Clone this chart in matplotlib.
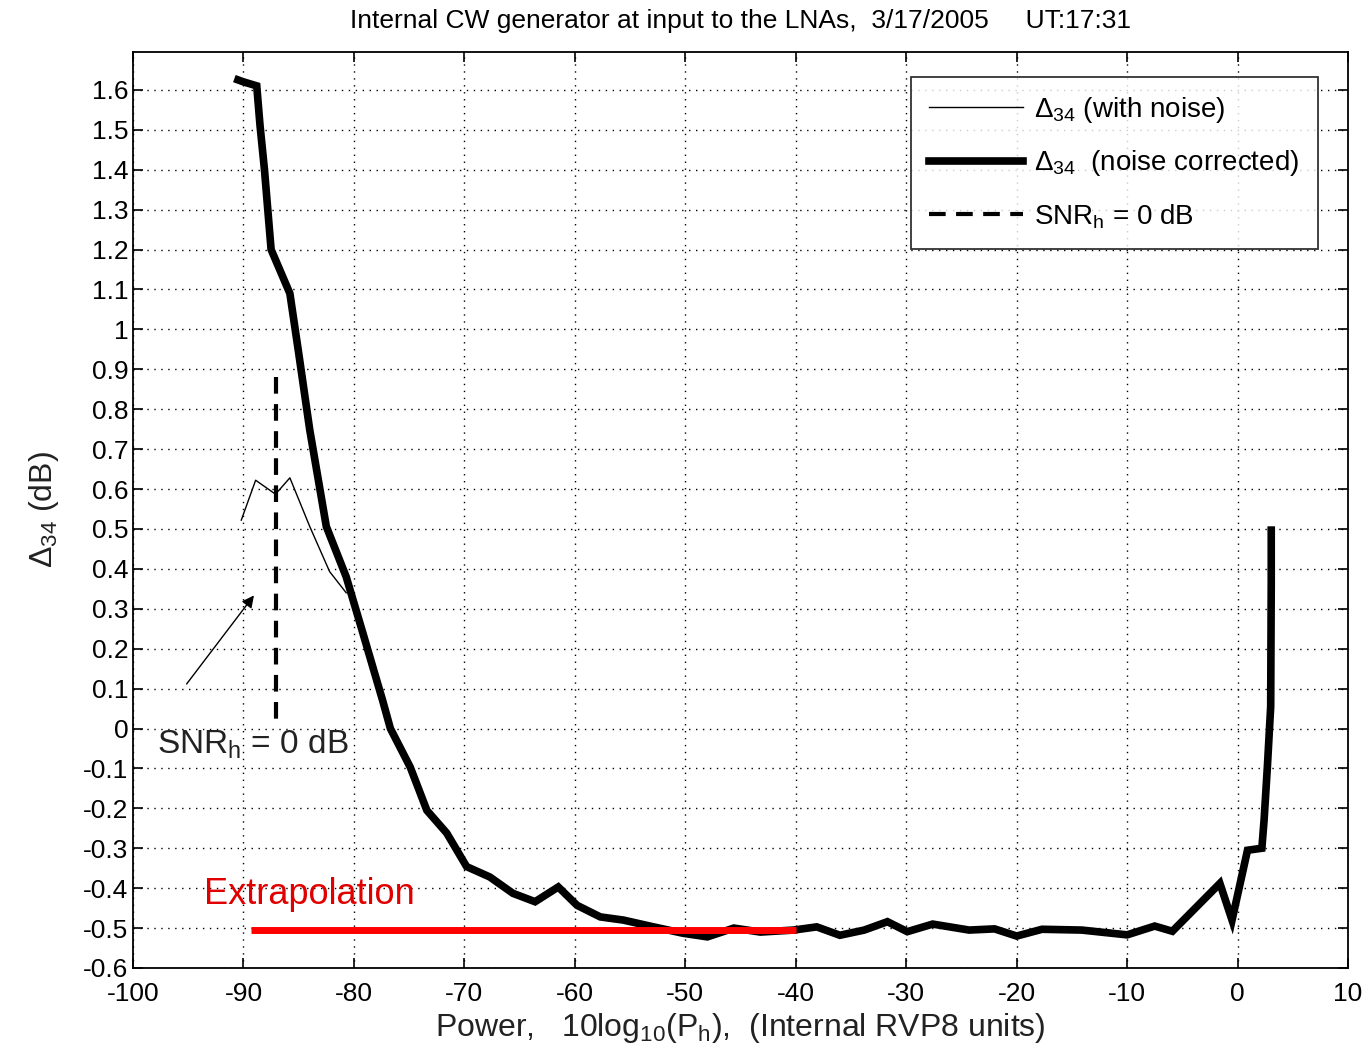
import matplotlib
matplotlib.use("Agg")
import matplotlib.pyplot as plt
import numpy as np

plt.rcParams['font.family'] = ['Liberation Sans', 'DejaVu Sans']
plt.rcParams['mathtext.fontset'] = 'custom'
plt.rcParams['mathtext.rm'] = 'Liberation Sans'
plt.rcParams['mathtext.it'] = 'Liberation Sans'
plt.rcParams['axes.unicode_minus'] = False

# noise corrected delta_34 (thick line)
x_corr = [-90.5, -90.0, -88.8, -88.5, -88.1, -87.8, -87.5, -85.8, -85.0, -84.0,
          -82.5, -80.7, -79.2, -77.4, -76.7, -74.9, -73.4, -71.6, -69.8, -67.7,
          -65.6, -63.6, -61.5, -59.8, -57.7, -55.6, -53.2, -50.2, -48.0, -45.6,
          -43.2, -40.2, -38.1, -36.0, -33.8, -31.7, -29.9, -27.6, -24.3, -22.0,
          -20.0, -17.7, -14.1, -10.0, -7.5, -5.9, -1.6, -0.5, 0.9, 2.2,
          2.4, 2.7, 3.0, 3.05, 3.05]
y_corr = [1.625, 1.62, 1.61, 1.51, 1.40, 1.30, 1.20, 1.09, 0.94, 0.748,
          0.506, 0.38, 0.24, 0.07, 0.0, -0.097, -0.205, -0.262, -0.346, -0.372,
          -0.413, -0.434, -0.397, -0.443, -0.472, -0.48, -0.495, -0.513, -0.522, -0.50,
          -0.51, -0.505, -0.497, -0.518, -0.505, -0.484, -0.509, -0.49, -0.505, -0.502,
          -0.52, -0.503, -0.505, -0.517, -0.495, -0.508, -0.388, -0.48, -0.305, -0.30,
          -0.23, -0.096, 0.055, 0.365, 0.497]

# delta_34 with noise (thin line)
x_noise = [-90.2, -88.9, -87.1, -85.8, -84.0, -82.2, -80.7]
y_noise = [0.522, 0.622, 0.587, 0.628, 0.506, 0.393, 0.34]

# SNR_h = 0 dB marker
x_snr = [-87.1, -87.1]
y_snr = [0.88, 0.0]

# extrapolation level
x_extra = [-89.3, -40.0]
y_extra = [-0.505, -0.505]

xticks = np.arange(-100, 11, 10)
yticks = np.round(np.arange(-0.6, 1.61, 0.1), 1)
yticklabels = ['%g' % (v + 0.0) for v in yticks]
yticklabels = [s if s != '-0' else '0' for s in yticklabels]

fig = plt.figure(figsize=(13.63, 10.60), dpi=100)
ax = fig.add_axes([0.0976, 0.0868, 0.8914, 0.8642])

ax.plot(x_noise, y_noise, color='black', lw=1.0, label=r'$\Delta_{34}$ (with noise)')
ax.plot(x_corr, y_corr, color='black', lw=5.5, solid_joinstyle='miter',
        label=r'$\Delta_{34}$  (noise corrected)')
ax.plot(x_snr, y_snr, color='black', lw=3, ls=(0, (4, 2.5)), label=r'SNR$_{\mathrm{h}}$ = 0 dB')
ax.plot(x_extra, y_extra, color='#ff0000', lw=5, solid_capstyle='butt')

ax.annotate('', xy=(-88.9, 0.339), xytext=(-95.3, 0.106),
            arrowprops=dict(arrowstyle='-|>', color='black', lw=1, mutation_scale=18))
ax.text(-97.8, -0.04, r'SNR$_{\mathrm{h}}$ = 0 dB', fontsize=24, va='center', ha='left',
        color='#222222')
ax.text(-93.6, -0.415, 'Extrapolation', fontsize=26, color='#e00000', va='center', ha='left')

ax.set_xlim(-100, 10)
ax.set_ylim(-0.6, 1.695)
ax.set_xticks(xticks)
ax.set_xticklabels(['%d' % v for v in xticks])
ax.set_yticks(yticks)
ax.set_yticklabels(yticklabels)
ax.tick_params(direction='in', top=True, right=True, length=7, width=1.2,
               labelsize=19, colors='black')
ax.tick_params(axis='x', pad=10)
ax.grid(True, color='black', ls=(0, (1, 4)), lw=1.0)
for s in ax.spines.values():
    s.set_linewidth(1.3)

ax.set_xlabel(r'Power,   10log$_{10}$(P$_{\mathrm{h}}$),  (Internal RVP8 units)', fontsize=23,
              labelpad=4, color='#222222')
ax.set_ylabel(r'$\Delta_{34}$ (dB)', fontsize=23, labelpad=16, color='#222222')
ax.set_title('Internal CW generator at input to the LNAs,  3/17/2005     UT:17:31',
             fontsize=19, pad=17)

leg = ax.legend(loc='upper right', bbox_to_anchor=(0.9865, 0.988), fontsize=20,
                frameon=True, fancybox=False, edgecolor='black', handlelength=3.4,
                borderpad=0.65, labelspacing=0.85, handletextpad=0.4)
leg.get_frame().set_linewidth(1.3)

fig.savefig('out.png', dpi=100)
